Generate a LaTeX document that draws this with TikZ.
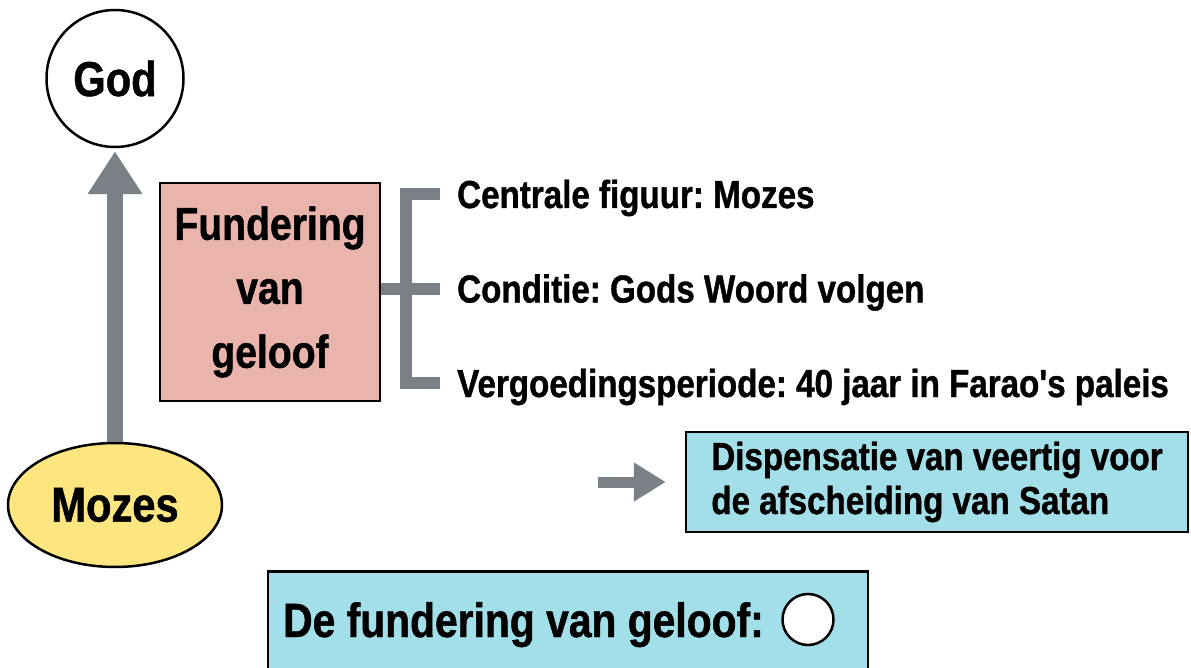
\documentclass[tikz,border=0pt]{standalone}
\usepackage{fontspec}
\setmainfont{Liberation Sans}[FakeStretch=0.85, FakeBold=1, Ligatures=TeXOff]
\usetikzlibrary{arrows.meta,shapes.geometric}
\definecolor{arrgray}{RGB}{122,128,134}
\definecolor{pinkfill}{RGB}{233,180,172}
\definecolor{yellowfill}{RGB}{253,229,128}
\definecolor{cyanfill}{RGB}{163,223,232}
\frenchspacing
\begin{document}
\begin{tikzpicture}[x=1pt,y=-1pt,
  listtxt/.style={font=\bfseries\fontsize{39}{44}\selectfont, inner sep=0pt, anchor=base west},
  bigtxt/.style={font=\bfseries\fontsize{49}{55}\selectfont},
  graybar/.style={draw=arrgray, line width=12pt, miter limit=10},
  cyanbox/.style={draw, line width=2.5pt, fill=cyanfill}
]
\useasboundingbox (0,0) rectangle (1191,668);

% God and Mozes
\node[circle, draw, line width=2.5pt, fill=white, minimum size=137pt, inner sep=0pt, bigtxt] (god) at (115,78.5) {God};
\node[ellipse, draw, line width=2.5pt, fill=yellowfill, minimum width=214pt, minimum height=124pt, inner sep=0pt, bigtxt] (moz) at (115,505) {Mozes};
\draw[arrgray, line width=16pt, -{Triangle[width=52pt,length=43pt]}, shorten >=3pt] (moz) -- (god);

% Foundation of faith box
\node[draw, line width=2pt, fill=pinkfill, minimum width=220pt, minimum height=218pt, align=center, inner sep=0pt,
      font=\bfseries\fontsize{46}{64}\selectfont] (fund) at (270,292) {Fundering\\van\\geloof};

% bracket
\coordinate (bt) at (440,194);
\coordinate (bm) at (440,289);
\coordinate (bb) at (440,383);
\draw[graybar] (bt) -- ++(-34,0) |- (bb);
\draw[graybar] (fund.east |- bm) -- (bm);

% list texts
\node[listtxt] (t1) at (457,208) {Centrale figuur: Mozes};
\node[listtxt] (t2) at (457,302.5) {Conditie: Gods Woord volgen};
\node[listtxt] (t3) at (457,397) {Vergoedingsperiode: 40 jaar in Farao's paleis};

% dispensation box
\node[cyanbox, minimum width=502pt, minimum height=100pt, align=left, inner sep=0pt,
      font=\bfseries\fontsize{39}{44}\selectfont] (disp) at (937,482) {Dispensatie van veertig voor\\de afscheiding van Satan};
\coordinate (sa) at (598,482);
\draw[arrgray, line width=11pt, -{Triangle[width=37pt,length=32pt]}, shorten >=19pt] (sa) -- (disp.west);

% bottom box
\node[cyanbox, minimum width=600pt, minimum height=130pt, anchor=north] (fb) at (568,570) {};
\node[anchor=base west, inner sep=0pt, font=\bfseries\fontsize{48}{55}\selectfont] (fbt) at (283,637) {De fundering van geloof:};
\node[circle, draw, line width=2.5pt, fill=white, minimum size=51pt, inner sep=0pt] (fbc) at (808,619.5) {};
\end{tikzpicture}
\end{document}
